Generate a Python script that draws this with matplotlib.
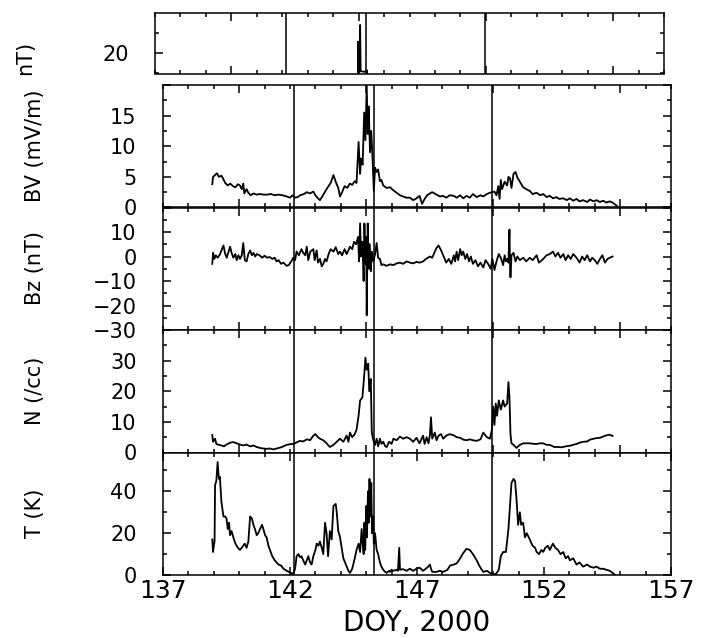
import matplotlib
matplotlib.use("Agg")
import matplotlib.pyplot as plt
from matplotlib.ticker import MultipleLocator

# values (day of year 2000)
b_day = [144.5, 144.9, 144.97, 144.98, 145.0, 145.02, 145.04, 145.06, 145.08, 145.1, 145.2, 145.3, 145.33, 145.36, 145.8]
b_val = [12.0, 15.0, 15.0, 21.4, 17.7, 20.0, 17.6, 23.5, 17.8, 17.7, 17.6, 17.7, 17.8, 15.0, 12.0]

bv_day = [138.94, 138.97, 139.05, 139.12, 139.2, 139.3, 139.38, 139.45, 139.55, 139.65, 139.75, 139.85,
          139.95, 140.03, 140.1, 140.16, 140.2, 140.29, 140.36, 140.45, 140.56, 140.69, 140.82, 140.95,
          141.1, 141.25, 141.4, 141.55, 141.7, 141.87, 142.0, 142.1, 142.2, 142.3, 142.4, 142.55, 142.66,
          142.79, 142.92, 143.0, 143.1, 143.18, 143.3, 143.44, 143.6, 143.71, 143.8, 143.9, 143.97, 144.05,
          144.15, 144.25, 144.36, 144.45, 144.55, 144.62, 144.7, 144.76, 144.8, 144.86, 144.92, 144.97,
          145.02, 145.06, 145.1, 145.15, 145.2, 145.25, 145.3, 145.35, 145.41, 145.47, 145.54, 145.6,
          145.67, 145.8, 145.94, 146.07, 146.2, 146.33, 146.45, 146.59, 146.72, 146.85, 146.98, 147.1,
          147.2, 147.3, 147.4, 147.51, 147.6, 147.77, 147.9, 148.03, 148.15, 148.29, 148.45, 148.56, 148.7,
          148.82, 148.95, 149.08, 149.2, 149.35, 149.5, 149.61, 149.75, 149.87, 149.95, 150.05, 150.13,
          150.2, 150.25, 150.3, 150.35, 150.45, 150.55, 150.6, 150.66, 150.72, 150.8, 150.88, 150.95,
          151.05, 151.18, 151.3, 151.44, 151.55, 151.71, 151.85, 151.97, 152.1, 152.23, 152.35, 152.49,
          152.6, 152.76, 152.9, 153.02, 153.15, 153.28, 153.4, 153.54, 153.7, 153.81, 153.95, 154.07,
          154.2, 154.33, 154.45, 154.59, 154.7, 154.86]
bv_val = [3.8, 5.0, 5.3, 5.6, 5.0, 5.2, 4.6, 4.0, 3.6, 3.9, 3.5, 3.3,
          3.8, 3.6, 3.0, 3.9, 2.3, 3.0, 2.4, 2.0, 2.3, 2.1, 2.2, 2.1,
          2.1, 2.2, 2.0, 2.1, 2.0, 1.8, 1.6, 2.0, 1.6, 1.7, 2.0, 2.2, 2.5,
          2.3, 2.6, 2.0, 1.5, 1.2, 2.0, 3.0, 4.0, 5.3, 4.2, 3.2, 1.8, 2.5,
          3.5, 3.2, 3.9, 3.7, 4.3, 4.0, 10.7, 5.5, 8.0, 7.0, 15.5, 11.0,
          20.0, 12.0, 16.5, 9.0, 12.5, 8.0, 2.7, 6.5, 5.8, 6.2, 4.3, 4.5,
          3.6, 3.2, 3.3, 2.8, 2.4, 2.0, 1.8, 1.6, 1.6, 1.2, 1.5, 1.9,
          0.6, 1.4, 2.0, 2.3, 2.5, 2.1, 1.8, 1.9, 1.6, 2.0, 1.9, 1.6, 2.0,
          1.5, 1.9, 1.6, 2.2, 1.7, 2.0, 1.8, 2.2, 2.4, 2.5, 2.6, 2.0,
          3.5, 1.4, 4.5, 3.0, 4.2, 3.6, 5.0, 4.8, 3.2, 5.5, 5.8, 4.9,
          4.2, 3.3, 3.0, 2.7, 2.2, 2.4, 2.0, 2.2, 1.7, 1.9, 1.5, 1.7,
          1.4, 1.5, 1.2, 1.5, 1.1, 1.4, 1.0, 1.2, 0.9, 1.3, 1.0, 1.2,
          0.9, 1.1, 0.8, 1.0, 0.8, 0.3]

bz_day = [138.94, 138.97, 139.02, 139.08, 139.15, 139.24, 139.3, 139.38, 139.45, 139.51, 139.58, 139.64,
          139.7, 139.77, 139.85, 139.9, 139.97, 140.03, 140.1, 140.16, 140.22, 140.29, 140.36, 140.43,
          140.5, 140.56, 140.63, 140.69, 140.8, 140.9, 141.0, 141.1, 141.2, 141.3, 141.4, 141.47, 141.55,
          141.65, 141.74, 141.87, 141.95, 142.05, 142.13, 142.2, 142.26, 142.35, 142.45, 142.52, 142.6,
          142.66, 142.72, 142.8, 142.92, 142.97, 143.05, 143.1, 143.18, 143.25, 143.31, 143.38, 143.44,
          143.52, 143.6, 143.71, 143.8, 143.9, 143.97, 144.05, 144.15, 144.23, 144.3, 144.36, 144.45,
          144.52, 144.6, 144.68, 144.72, 144.76, 144.8, 144.85, 144.9, 144.93, 144.97, 145.0, 145.02,
          145.06, 145.1, 145.14, 145.18, 145.22, 145.28, 145.35, 145.41, 145.47, 145.54, 145.6, 145.67,
          145.8, 145.94, 146.07, 146.2, 146.33, 146.45, 146.59, 146.72, 146.85, 146.98, 147.1, 147.24,
          147.35, 147.51, 147.6, 147.7, 147.77, 147.85, 147.95, 148.03, 148.15, 148.25, 148.35, 148.45,
          148.5, 148.56, 148.62, 148.7, 148.76, 148.82, 148.9, 148.97, 149.05, 149.12, 149.2, 149.3,
          149.4, 149.5, 149.61, 149.7, 149.8, 149.9, 149.97, 150.05, 150.13, 150.22, 150.3, 150.39,
          150.45, 150.5, 150.55, 150.6, 150.64, 150.66, 150.68, 150.72, 150.8, 150.88, 150.95, 151.05,
          151.18, 151.3, 151.44, 151.55, 151.71, 151.8, 151.97, 152.1, 152.23, 152.35, 152.45, 152.55,
          152.65, 152.76, 152.85, 152.95, 153.05, 153.15, 153.28, 153.4, 153.5, 153.6, 153.7, 153.81,
          153.9, 154.0, 154.1, 154.2, 154.3, 154.4, 154.5, 154.59, 154.7]
bz_val = [-3.0, 1.5, -1.0, 0.5, -0.5, 0.8, 2.5, 4.5, 1.0, -0.5, 2.0, 4.0,
          1.5, -0.5, 1.0, -1.5, 0.5, -1.0, 0.5, 5.5, -1.5, -2.0, 1.0, 2.5,
          0.5, 1.5, 0.0, 1.0, 0.5, -0.5, 0.3, -0.5, -0.2, -1.0, -0.5, -2.0, -1.5,
          -3.0, -2.5, -3.8, -3.5, -2.0, -0.5, -1.5, 2.0, 0.5, 3.0, 1.5, 0.5,
          4.0, -1.5, 2.0, 3.0, -1.5, 2.5, -2.5, -1.0, -4.0, -3.0, -1.0, -2.0,
          1.0, 3.0, 2.0, 3.8, 1.0, 2.0, 0.5, 3.0, 1.0, 2.5, 4.0, 3.0,
          6.0, 5.0, 8.0, -2.0, 13.5, 0.0, 6.0, -10.0, 13.5, -3.0, 8.0, -24.0,
          13.5, -5.0, 5.0, -6.0, 2.0, -2.0, 1.0, 5.5, -0.5, -1.0, -3.5, -3.2,
          -3.8, -3.2, -3.5, -2.8, -2.5, -3.0, -2.0, -2.5, -2.8, -2.2, -2.5, -2.0,
          -1.0, 0.0, -0.5, 2.0, 3.5, 4.5, 2.5, 0.5, -2.5, -1.0, -3.0, 0.5,
          -2.0, 2.0, -1.5, 3.0, 0.5, 2.0, -1.0, 1.0, -2.0, 0.0, -3.0, -1.5,
          -4.0, -2.5, -4.5, -1.5, -3.0, -5.0, -1.0, -5.5, -2.0, 1.0, -0.5, -3.5,
          0.5, -2.0, -1.0, -2.5, 11.0, -3.0, -8.5, 0.5, 1.5, -2.0, 0.0, -1.5,
          -0.5, -2.0, -0.5, -1.5, 0.5, -2.5, -1.0, 0.5, 1.0, 2.0, 0.0, 1.5,
          -0.5, 1.0, -1.5, 0.5, -1.0, 1.0, -0.5, -2.5, 0.0, -1.5, 0.5, -2.0,
          -0.5, -1.5, -3.0, -1.0, 0.5, -2.5, -1.0, -0.5, 0.0]

n_day = [138.94, 138.97, 139.05, 139.1, 139.2, 139.3, 139.4, 139.5, 139.64, 139.77, 139.9, 140.03,
         140.16, 140.29, 140.43, 140.56, 140.69, 140.82, 140.95, 141.08, 141.21, 141.34, 141.47, 141.61,
         141.74, 141.87, 142.0, 142.13, 142.26, 142.39, 142.52, 142.66, 142.79, 142.92, 143.0, 143.1,
         143.18, 143.31, 143.44, 143.57, 143.71, 143.84, 143.97, 144.1, 144.23, 144.3, 144.36, 144.45,
         144.55, 144.62, 144.7, 144.76, 144.85, 144.92, 144.97, 145.02, 145.08, 145.12, 145.18, 145.22,
         145.28, 145.35, 145.41, 145.47, 145.54, 145.6, 145.67, 145.75, 145.81, 145.9, 146.0, 146.07,
         146.2, 146.33, 146.45, 146.59, 146.72, 146.85, 146.98, 147.1, 147.24, 147.3, 147.38, 147.45,
         147.51, 147.55, 147.6, 147.7, 147.77, 147.85, 147.95, 148.03, 148.15, 148.29, 148.45, 148.56,
         148.7, 148.82, 148.95, 149.08, 149.2, 149.35, 149.5, 149.61, 149.75, 149.87, 149.95, 150.0,
         150.05, 150.1, 150.15, 150.22, 150.3, 150.39, 150.45, 150.55, 150.6, 150.64, 150.68, 150.72,
         150.8, 150.92, 151.05, 151.18, 151.32, 151.44, 151.6, 151.71, 151.85, 151.97, 152.1, 152.23,
         152.4, 152.55, 152.7, 152.85, 153.02, 153.15, 153.28, 153.4, 153.54, 153.7, 153.81, 153.95,
         154.07, 154.2, 154.33, 154.45, 154.59, 154.7]
n_val = [5.7, 3.5, 4.5, 2.8, 2.5, 2.3, 2.0, 2.6, 3.2, 3.4, 3.0, 2.6,
         2.3, 2.6, 2.0, 2.3, 1.8, 1.5, 1.3, 1.2, 1.3, 1.0, 1.3, 1.6,
         2.0, 2.5, 2.7, 2.8, 3.3, 3.8, 3.6, 4.3, 4.0, 5.5, 6.0, 5.0,
         4.5, 4.0, 3.0, 1.8, 2.5, 3.5, 4.5, 3.5, 5.5, 3.5, 6.5, 5.0,
         6.0, 7.5, 12.0, 17.0, 18.0, 25.0, 31.0, 27.0, 29.0, 20.0, 24.0, 6.5,
         4.0, 2.5, 4.5, 2.0, 4.5, 2.8, 3.5, 2.0, 1.8, 3.5, 2.8, 4.5,
         4.0, 5.2, 4.5, 5.0, 4.5, 3.5, 4.8, 3.0, 5.5, 2.8, 5.0, 3.0,
         5.8, 11.5, 4.5, 6.5, 4.0, 5.5, 6.0, 4.5, 5.5, 6.0, 5.6, 5.0,
         4.8, 4.2, 4.0, 4.3, 4.0, 3.8, 4.3, 6.5, 5.0, 4.5, 7.5, 15.0,
         9.0, 16.0, 12.0, 17.0, 14.0, 17.0, 15.0, 16.0, 23.0, 18.0, 6.0, 3.0,
         2.5, 1.5, 2.5, 3.0, 3.0, 3.0, 2.8, 2.8, 3.0, 3.0, 2.5, 2.5,
         1.8, 1.8, 1.7, 2.0, 2.2, 2.5, 2.8, 3.2, 3.5, 3.6, 4.2, 4.5,
         4.7, 4.8, 5.2, 5.6, 5.8, 5.4]

t_day = [138.94, 138.97, 139.0, 139.03, 139.05, 139.1, 139.15, 139.2, 139.24, 139.3, 139.38, 139.45,
         139.5, 139.55, 139.6, 139.64, 139.7, 139.77, 139.85, 139.95, 140.03, 140.1, 140.16, 140.22,
         140.29, 140.36, 140.43, 140.5, 140.56, 140.62, 140.69, 140.75, 140.82, 140.9, 140.95, 141.02,
         141.08, 141.15, 141.21, 141.3, 141.4, 141.47, 141.55, 141.65, 141.74, 141.87, 141.95, 142.05,
         142.13, 142.2, 142.26, 142.33, 142.39, 142.45, 142.52, 142.6, 142.66, 142.72, 142.79, 142.85,
         142.92, 143.0, 143.05, 143.12, 143.18, 143.25, 143.31, 143.38, 143.44, 143.5, 143.57, 143.64,
         143.71, 143.8, 143.84, 143.9, 143.97, 144.05, 144.1, 144.2, 144.3, 144.36, 144.45, 144.55,
         144.62, 144.7, 144.76, 144.82, 144.87, 144.9, 144.93, 144.96, 145.0, 145.03, 145.07, 145.1,
         145.13, 145.16, 145.2, 145.23, 145.27,
         145.3, 145.35, 145.41, 145.47, 145.54, 145.6, 145.67, 145.75, 145.81, 145.9, 145.94, 146.0,
         146.07, 146.2, 146.25, 146.3, 146.33, 146.45, 146.59, 146.72, 146.85, 146.98, 147.1, 147.24,
         147.4, 147.51, 147.55, 147.6, 147.77, 147.9, 148.03, 148.2, 148.3, 148.45, 148.56, 148.7,
         148.82, 148.95, 149.08, 149.2, 149.35, 149.45, 149.55, 149.61, 149.75, 149.87, 149.95, 150.05,
         150.13, 150.22, 150.3, 150.39, 150.5, 150.6, 150.66, 150.72, 150.8, 150.86, 150.92, 150.98,
         151.05, 151.1, 151.18, 151.25, 151.32, 151.44, 151.55, 151.65, 151.71, 151.8, 151.9, 151.97,
         152.05, 152.15, 152.23, 152.35, 152.45, 152.55, 152.65, 152.76, 152.85, 152.95, 153.02, 153.15,
         153.28, 153.4, 153.54, 153.7, 153.81, 153.95, 154.07, 154.2, 154.33, 154.45, 154.59, 154.7,
         154.8]
t_val = [17.0, 11.0, 14.0, 16.0, 43.0, 45.0, 54.0, 46.0, 47.0, 35.0, 28.0, 28.0,
         27.0, 22.0, 25.0, 19.0, 21.0, 18.0, 15.0, 13.0, 12.0, 13.0, 14.0, 15.0,
         13.0, 16.0, 28.0, 27.0, 24.0, 22.0, 19.0, 20.0, 22.0, 24.0, 22.0, 19.0,
         18.0, 14.0, 12.0, 9.0, 7.0, 6.0, 5.0, 4.5, 3.0, 2.0, 1.5, 1.0,
         0.5, 3.0, 9.0, 10.0, 8.5, 9.0, 7.0, 5.0, 7.0, 9.0, 6.0, 5.0,
         9.0, 12.0, 15.0, 14.0, 16.0, 13.0, 10.0, 25.0, 20.0, 9.0, 21.0, 17.0,
         33.0, 34.0, 30.0, 21.0, 18.0, 12.0, 8.0, 5.0, 2.0, 1.0, 3.0, 8.0,
         12.0, 15.0, 11.0, 22.0, 14.0, 10.0, 25.0, 12.0, 33.0, 18.0, 40.0, 25.0,
         46.0, 28.0, 44.0, 20.0, 28.0,
         15.0, 20.0, 12.0, 10.0, 6.0, 4.0, 2.5, 1.5, 1.0, 2.0, 1.5, 2.5,
         2.0, 2.5, 2.0, 13.0, 2.5, 2.8, 2.0, 3.0, 2.0, 3.0, 3.5, 2.0,
         3.5, 5.0, 3.0, 1.5, 1.5, 2.0, 1.5, 2.5, 4.5, 5.0, 5.5, 8.0,
         10.5, 12.5, 12.0, 10.0, 7.0, 4.5, 2.5, 1.5, 2.0, 1.0, 0.5, 0.3,
         0.8, 2.5, 9.0, 11.0, 11.0, 22.0, 33.0, 44.0, 46.0, 45.0, 36.0, 24.0,
         30.0, 24.0, 25.0, 18.0, 20.0, 17.0, 14.0, 13.0, 11.0, 10.0, 12.0, 11.0,
         13.0, 14.0, 12.0, 15.0, 13.0, 12.0, 10.0, 11.0, 8.0, 9.0, 7.0, 8.0,
         5.0, 6.0, 4.0, 5.0, 4.0, 3.5, 4.0, 3.0, 3.0, 2.5, 2.0, 1.0,
         0.0]

events = [142.15, 145.3, 149.95]

plt.rcParams['font.family'] = 'DejaVu Sans'

fig = plt.figure(figsize=(7.04, 6.38), dpi=100)
W, H = 704.0, 638.0


def box(left, top, right, bottom):
    return [left / W, 1 - bottom / H, (right - left) / W, (bottom - top) / H]


ax_b = fig.add_axes(box(155, 13, 664, 73.5))
ax_bv = fig.add_axes(box(163, 85, 671, 207.5))
ax_bz = fig.add_axes(box(163, 207.5, 671, 330))
ax_n = fig.add_axes(box(163, 330, 671, 452.5))
ax_t = fig.add_axes(box(163, 452.5, 671, 575))

panels = [
    (ax_b, b_day, b_val, (17.4, 25.0), [20], ['20'], [17.5, 22.5]),
    (ax_bv, bv_day, bv_val, (0, 20), [0, 5, 10, 15, 20], ['0', '5', '10', '15', ''], [2.5, 7.5, 12.5, 17.5]),
    (ax_bz, bz_day, bz_val, (-30, 20), [-30, -20, -10, 0, 10, 20],
     ['\u221230', '\u221220', '\u221210', '0', '10', ''], [-25, -15, -5, 5, 15]),
    (ax_n, n_day, n_val, (0, 40), [0, 10, 20, 30, 40], ['0', '10', '20', '30', ''], [5, 15, 25, 35]),
    (ax_t, t_day, t_val, (0, 58.6), [0, 20, 40], ['0', '20', '40'], [10, 30, 50]),
]

for ax, xd, yd, ylim, yt, ytl, ymin in panels:
    ax.plot(xd, yd, color='black', lw=1.3)
    for d in events:
        ax.axvline(d, color='black', lw=1.1)
    ax.set_xlim(137, 157)
    ax.set_ylim(*ylim)
    ax.xaxis.set_major_locator(MultipleLocator(5))
    ax.xaxis.set_minor_locator(MultipleLocator(1))
    ax.set_yticks(yt)
    ax.set_yticklabels(ytl)
    ax.set_yticks(ymin, minor=True)
    ax.tick_params(which='both', direction='in', top=True, right=True, width=1.1,
                   labelsize=15, pad=19)
    ax.tick_params(which='major', length=5.5)
    ax.tick_params(which='minor', length=3)
    ax.tick_params(axis='x', labelbottom=False)
    for s in ax.spines.values():
        s.set_linewidth(1.1)

ax_t.tick_params(axis='x', labelbottom=True, labelsize=18, pad=3)
ax_t.set_xticks([137, 142, 147, 152, 157])
ax_t.set_xlabel('DOY, 2000', fontsize=20, labelpad=4)

# rotated panel labels placed at fixed x positions like the reference
fig.text(25 / W, 1 - 58 / H, 'nT)', rotation=90, fontsize=15, ha='center', va='center')
for label, yc in [('BV (mV/m)', 146), ('Bz (nT)', 268), ('N (/cc)', 391), ('T (K)', 513)]:
    fig.text(35 / W, 1 - yc / H, label, rotation=90, fontsize=15, ha='center', va='center')

fig.savefig('out.png', dpi=100, facecolor='white')
